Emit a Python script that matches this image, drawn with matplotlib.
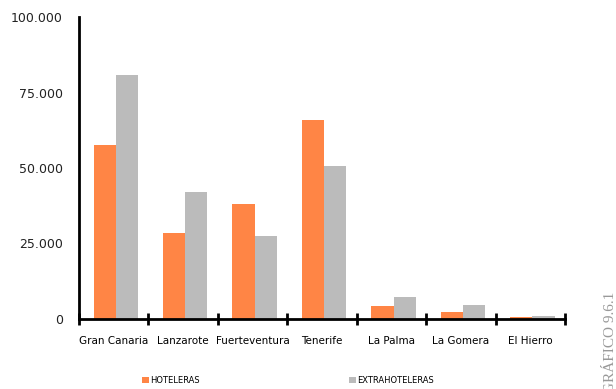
import numpy as np
import matplotlib
matplotlib.use("Agg")
import matplotlib.pyplot as plt
from matplotlib.ticker import FuncFormatter

# Plazas por isla
islas = ['Gran Canaria', 'Lanzarote', 'Fuerteventura', 'Tenerife',
         'La Palma', 'La Gomera', 'El Hierro']
hoteleras = [57600, 28500, 38100, 65900, 4300, 2300, 600]
extrahoteleras = [80800, 42100, 27500, 50700, 7300, 4600, 1000]

ORANGE = '#FF8545'
GREY = '#BBBBBB'

fig = plt.figure(figsize=(6.16, 3.89), dpi=100)
ax = fig.add_axes([79 / 616, 1 - 319 / 389, (565 - 79) / 616, (319 - 17) / 389])

x = np.arange(len(islas))
w = 0.32
ax.bar(x - w / 2 + 0.03, hoteleras, w, color=ORANGE, label='HOTELERAS')
ax.bar(x + w / 2 + 0.03, extrahoteleras, w, color=GREY, label='EXTRAHOTELERAS')

ax.set_xlim(-0.5, len(islas) - 0.5)
ax.set_ylim(0, 100000)
ax.set_yticks([0, 25000, 50000, 75000, 100000])
ax.yaxis.set_major_formatter(FuncFormatter(lambda v, p: f'{int(v):,}'.replace(',', '.')))
ax.tick_params(axis='y', length=0, labelsize=9, pad=11.5, labelcolor='#222222')

ax.set_xticks(x)
ax.set_xticklabels(islas, fontsize=7.5)
ax.set_xticks(np.arange(len(islas) + 1) - 0.5, minor=True)
ax.tick_params(axis='x', which='major', length=0, pad=12)
ax.tick_params(axis='x', which='minor', direction='inout', length=8, width=2)

for s in ['top', 'right']:
    ax.spines[s].set_visible(False)
ax.spines['left'].set_linewidth(2)
ax.spines['bottom'].set_linewidth(2)

leg = fig.legend(loc='lower left', bbox_to_anchor=(138 / 616, 0.0), ncol=2,
                 frameon=False, fontsize=6, handlelength=0.8, handleheight=0.8,
                 handletextpad=0.1, columnspacing=18, borderaxespad=0.1)

fig.text(611 / 616, 1 - 292 / 389, 'GRÁFICO 9.6.1', rotation=90, fontsize=11,
         family='Liberation Serif', color='#999999', ha='center', va='top')

fig.savefig('out.png', dpi=100)
